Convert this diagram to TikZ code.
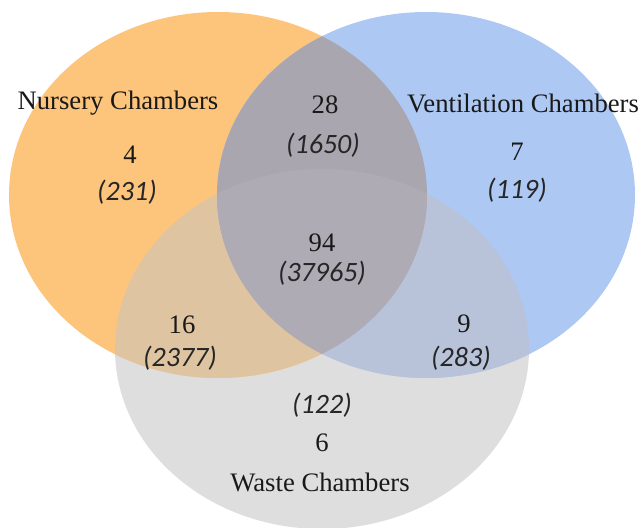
\documentclass[tikz,border=0pt]{standalone}
\usepackage{fontspec}
\setmainfont{Liberation Serif}
\newfontfamily\countfont{Carlito}

\definecolor{nurseryfill}{RGB}{253,196,124}
\definecolor{ventfill}{RGB}{172,200,243}
\definecolor{wastefill}{RGB}{222,222,222}
\definecolor{nvfill}{RGB}{170,166,176}
\definecolor{nwfill}{RGB}{222,196,160}
\definecolor{vwfill}{RGB}{184,195,217}
\definecolor{allfill}{RGB}{174,171,181}

% the three sets
\newcommand{\nurseryset}{(218,195) ellipse [x radius=209, y radius=183]}
\newcommand{\ventset}{(426,195) ellipse [x radius=209, y radius=183]}
\newcommand{\wasteset}{(322,349) ellipse [x radius=207, y radius=180]}

\begin{document}
\begin{tikzpicture}[x=0.75pt, y=-0.75pt, font=\fontsize{20}{22}\selectfont]

        % Styles
        \tikzstyle{setname} = [inner sep=0pt, text=black!90]
        \tikzstyle{count} = [inner sep=0pt, text=black!90]
        \tikzstyle{reads} = [inner sep=0pt, text=black!85, font=\countfont\itshape\fontsize{21}{24}\selectfont]

        \useasboundingbox (0,0) rectangle (644,528);

        % Sets
        \fill[wastefill] \wasteset;
        \fill[nurseryfill] \nurseryset;
        \fill[ventfill] \ventset;

        % Overlaps
        \begin{scope}
            \clip \nurseryset;
            \fill[nwfill] \wasteset;
        \end{scope}
        \begin{scope}
            \clip \ventset;
            \fill[vwfill] \wasteset;
        \end{scope}
        \begin{scope}
            \clip \nurseryset;
            \fill[nvfill] \ventset;
            \clip \wasteset;
            \fill[allfill] \ventset;
        \end{scope}

        % Nursery only
        \node[setname] (nursery) at (118,103) {Nursery Chambers};
        \node[count] (n) at (130,155) {4};
        \node[reads] (nr) at (127,192) {(231)};

        % Ventilation only
        \node[setname] (ventilation) at (523,103) {Ventilation Chambers};
        \node[count] (v) at (517,152) {7};
        \node[reads] (vr) at (517,190) {(119)};

        % Nursery and Ventilation
        \node[count] (nv) at (325,105) {28};
        \node[reads] (nvr) at (323,145) {(1650)};

        % All three
        \node[count] (nvw) at (322,243) {94};
        \node[reads] (nvwr) at (322,273) {(37965)};

        % Nursery and Waste
        \node[count] (nw) at (182,325) {16};
        \node[reads] (nwr) at (180,358) {(2377)};

        % Ventilation and Waste
        \node[count] (vw) at (464,324) {9};
        \node[reads] (vwr) at (461,358) {(283)};

        % Waste only
        \node[reads] (wr) at (322,405) {(122)};
        \node[count] (w) at (322,443) {6};
        \node[setname] (waste) at (320,482) {Waste Chambers};

    \end{tikzpicture}
\end{document}
